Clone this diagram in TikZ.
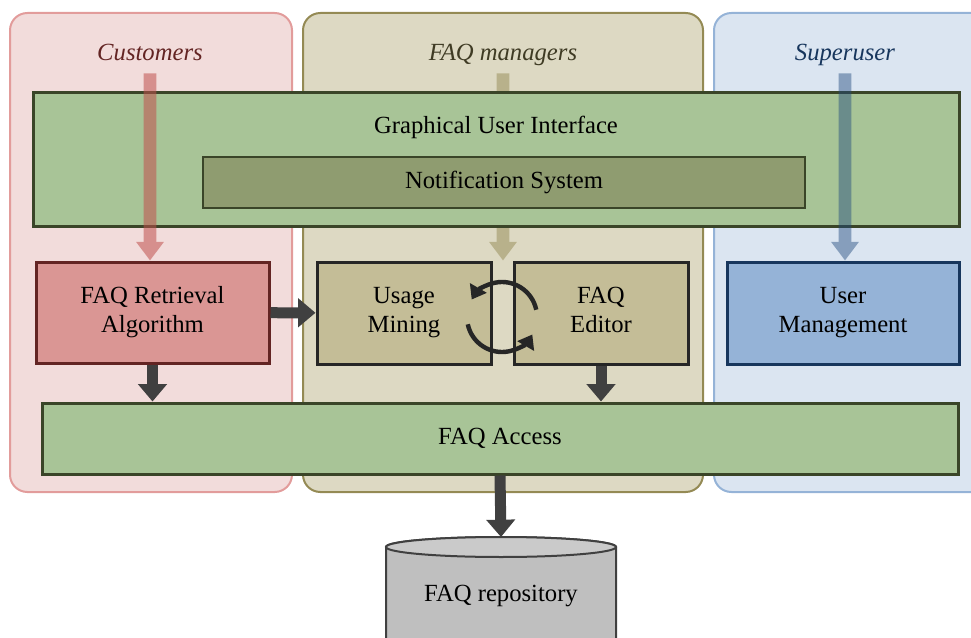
\documentclass[tikz,border=0pt]{standalone}
\usepackage{fontspec}
\setmainfont{Liberation Serif}
\usepackage{tikz}
\usepackage{xcolor}
\definecolor{custfill}{HTML}{F2DCDB}
\definecolor{custline}{HTML}{E29C9B}
\definecolor{custdark}{HTML}{632423}
\definecolor{custbox}{HTML}{DA9694}
\definecolor{custarr}{HTML}{C0504D}
\definecolor{mgrfill}{HTML}{DDD9C3}
\definecolor{mgrline}{HTML}{948A54}
\definecolor{mgrdark}{HTML}{3F3B24}
\definecolor{mgrbox}{HTML}{C4BD97}
\definecolor{supfill}{HTML}{DBE5F1}
\definecolor{supline}{HTML}{95B3D7}
\definecolor{supdark}{HTML}{17365D}
\definecolor{supbox}{HTML}{95B3D7}
\definecolor{suparr}{HTML}{1F497D}
\definecolor{guigreen}{HTML}{A8C497}
\definecolor{notegreen}{HTML}{8F9C70}
\definecolor{greenline}{HTML}{3A4528}
\definecolor{repogray}{HTML}{BFBFBF}
\definecolor{repotopgray}{HTML}{CACACA}
\definecolor{darkarrow}{HTML}{404040}
\usetikzlibrary{positioning,arrows.meta}

\tikzset{
	txt/.style={font=\fontsize{18.5}{21.5}\selectfont, align=center, inner sep=3pt},
	lane/.style={line width=1.5pt, rounded corners=13pt},
	lanelabel/.style={txt, font=\fontsize{18.5}{21.5}\selectfont\itshape, text height=13pt, text depth=4pt},
	greenbox/.style={txt, draw=greenline, fill=guigreen, line width=2.25pt},
	compbox/.style={txt, line width=2.25pt, text depth=4.5pt},
	bigarrow/.style={draw=darkarrow, line width=8.25pt, -{Triangle[width=21pt,length=13pt]}},
	softarrow/.style={line width=9.5pt, shorten <=2pt, -{Triangle[width=20pt,length=14pt]}},
	cyclearrow/.style={draw=black!85, line width=3.3pt, -{Triangle[width=14pt,length=10pt]}}
}

\begin{document}
\begin{tikzpicture}[x=0.75pt,y=0.75pt]
	\useasboundingbox (0,0) rectangle (971,637);
	% swim lanes
	\draw[lane, draw=custline, fill=custfill] (10,145) rectangle (292,624);
	\draw[lane, draw=mgrline, fill=mgrfill] (303,145) rectangle (703,624);
	\draw[lane, draw=supline, fill=supfill] (714,145) rectangle (1000,624);
	\node[lanelabel, text=custdark] (cust) at (150,582) {Customers};
	\node[lanelabel, text=mgrdark] (mgr) at (503,582) {FAQ managers};
	\node[lanelabel, text=supdark] (sup) at (845,582) {Superuser};
	% components
	\node[compbox, draw=custdark, fill=custbox, minimum width=174.75pt, minimum height=75.75pt] (retrieval) at (152.5,324.5) {FAQ Retrieval\\Algorithm};
	\node[compbox, draw=black!85, fill=mgrbox, minimum width=130.5pt, minimum height=76.5pt] (mining) at (404,324) {Usage\\Mining};
	\node[compbox, draw=black!85, fill=mgrbox, minimum width=130.5pt, minimum height=76.5pt] (editor) at (601,324) {FAQ\\Editor};
	\node[compbox, draw=supdark, fill=supbox, minimum width=174pt, minimum height=76.5pt] (usermgmt) at (843,324) {User\\Management};
	\begin{scope}[transparency group, opacity=0.5]
		\draw[softarrow, draw=mgrline] (mgr.south) -- (mgr.south |- mining.north);
	\end{scope}
	% user interface
	\node[greenbox, minimum width=694.5pt, minimum height=99.75pt] (gui) at (496,477.5) {};
	\node[txt] (guitext) at ([yshift=-27pt]gui.north) {Graphical User Interface};
	\node[greenbox, fill=notegreen, line width=2pt, minimum width=451.5pt, minimum height=38.25pt] (notify) at (504,454.5) {Notification System};
	\begin{scope}[transparency group, opacity=0.55]
		\draw[softarrow, draw=custarr] (cust.south) -- (cust.south |- retrieval.north);
	\end{scope}
	\begin{scope}[transparency group, opacity=0.45]
		\draw[softarrow, draw=suparr] (sup.south) -- (sup.south |- usermgmt.north);
	\end{scope}
	% cycle between mining and editor
	\coordinate (cyc) at (502,320);
	\draw[cyclearrow] ([shift={(12:35)}]cyc) arc[start angle=12, end angle=150, radius=35];
	\draw[cyclearrow] ([shift={(192:35)}]cyc) arc[start angle=192, end angle=330, radius=35];
	% data access
	\node[greenbox, minimum width=687pt, minimum height=53.25pt] (access) at (500,198.5) {FAQ Access};
	\path (retrieval) edge[bigarrow] (mining);
	\draw[bigarrow] (retrieval.south) -- (retrieval.south |- access.north);
	\draw[bigarrow] (editor.south) -- (editor.south |- access.north);
	% repository
	\draw[draw=darkarrow, fill=repogray, line width=1.5pt] (386,-30) -- (386,90) arc[start angle=180, end angle=0, x radius=115, y radius=10] -- (616,-30);
	\draw[draw=darkarrow, fill=repotopgray, line width=1.5pt] (501,90) ellipse[x radius=115, y radius=10];
	\coordinate (repotop) at (501,100);
	\node[txt] (repo) at (501,41) {FAQ repository};
	\draw[bigarrow] (access.south) -- (repotop);
\end{tikzpicture}
\end{document}
